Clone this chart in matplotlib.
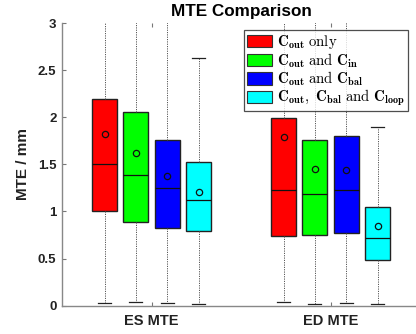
import matplotlib
matplotlib.use('Agg')
import matplotlib.pyplot as plt
from matplotlib.patches import Patch
import numpy as np

plt.rcParams['font.family'] = ['Liberation Sans', 'DejaVu Sans']
plt.rcParams['mathtext.fontset'] = 'cm'

groups = ['ES MTE', 'ED MTE']
methods = [r'$\mathbf{C}_{\mathbf{out}}\ \mathrm{only}$',
           r'$\mathbf{C}_{\mathbf{out}}\ \mathrm{and}\ \mathbf{C}_{\mathbf{in}}$',
           r'$\mathbf{C}_{\mathbf{out}}\ \mathrm{and}\ \mathbf{C}_{\mathbf{bal}}$',
           r'$\mathbf{C}_{\mathbf{out}},\ \mathbf{C}_{\mathbf{bal}}\ \mathrm{and}\ \mathbf{C}_{\mathbf{loop}}$']
colors = ['#ff0000', '#00ff00', '#0000ff', '#00ffff']

# per group: one entry per method
whislo = [[0.025, 0.035, 0.028, 0.017], [0.035, 0.017, 0.025, 0.020]]
q1 = [[1.00, 0.89, 0.82, 0.795], [0.735, 0.745, 0.775, 0.48]]
med = [[1.50, 1.39, 1.245, 1.125], [1.23, 1.19, 1.225, 0.715]]
q3 = [[2.19, 2.06, 1.755, 1.525], [1.99, 1.76, 1.80, 1.045]]
whishi = [[3.6, 3.5, 3.4, 2.625], [3.5, 3.4, 3.4, 1.895]]
means = [[1.82, 1.62, 1.38, 1.21], [1.79, 1.45, 1.44, 0.85]]

fig = plt.figure(figsize=(4.16, 3.34), dpi=100)
ax = fig.add_axes([0.149, 0.085, 0.861, 0.846])

offsets = np.array([-1.5, -0.5, 0.5, 1.5]) * 0.175
for g in range(len(groups)):
    stats = []
    for m in range(len(methods)):
        stats.append(dict(whislo=whislo[g][m], q1=q1[g][m], med=med[g][m],
                          q3=q3[g][m], whishi=whishi[g][m], mean=means[g][m],
                          fliers=[]))
    bp = ax.bxp(stats, positions=g + 1 + offsets, widths=0.14,
                capwidths=0.072, patch_artist=True, showmeans=True,
                boxprops=dict(edgecolor='#222222', linewidth=1.0),
                medianprops=dict(color='#111111', linewidth=0.9),
                whiskerprops=dict(color='#555555', linestyle=(0, (1.2, 1.2)), linewidth=0.7),
                capprops=dict(color='#222222', linewidth=0.9),
                meanprops=dict(marker='o', markerfacecolor='none',
                               markeredgecolor='#111111', markersize=4.5,
                               markeredgewidth=0.9))
    for patch, c in zip(bp['boxes'], colors):
        patch.set_facecolor(c)

ax.set_xlim(0.5, 2.5)
ax.set_ylim(0, 3)
ax.set_xticks([1, 2])
ax.set_xticklabels(groups, fontsize=10.5, fontweight='bold', color='#222222')
ax.set_yticks(np.arange(0, 3.01, 0.5))
ax.set_yticklabels(['0', '0.5', '1', '1.5', '2', '2.5', '3'],
                   fontsize=9.5, fontweight='bold', color='#222222')
ax.tick_params(direction='in', length=3, color='#777777', top=True, right=True,
               pad=4)
ax.tick_params(axis='x', pad=6)
for side in ['top', 'right']:
    ax.spines[side].set_visible(False)
for side in ['left', 'bottom']:
    ax.spines[side].set_color('#888888')
    ax.spines[side].set_linewidth(1.0)

ax.set_ylabel('MTE / mm', fontsize=11, fontweight='bold', color='#222222',
              labelpad=6)
ax.set_title('MTE Comparison', fontsize=12.3, fontweight='bold', pad=5)

handles = [Patch(facecolor=c, edgecolor='#333333', linewidth=0.8) for c in colors]
leg = ax.legend(handles, methods, loc='upper left', bbox_to_anchor=(0.509, 0.975),
                fontsize=10.6, frameon=True, fancybox=False, handlelength=1.7,
                handleheight=0.9, handletextpad=0.3, labelspacing=0.0,
                borderpad=0.2, borderaxespad=0)
leg.get_frame().set_edgecolor('#222222')
leg.get_frame().set_linewidth(0.9)

fig.savefig('out.png', dpi=100)
